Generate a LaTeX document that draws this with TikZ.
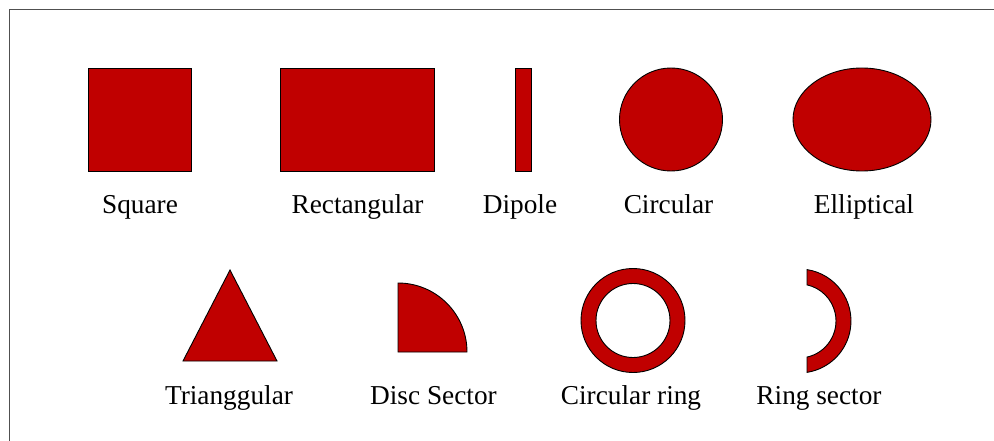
\documentclass[tikz,border=0pt]{standalone}
\usepackage{fontspec}
\setmainfont{Liberation Serif}
\definecolor{patchred}{RGB}{192,0,0}
\definecolor{framegray}{RGB}{80,80,80}
\begin{document}
\begin{tikzpicture}[x=1pt,y=-1pt,
  patch/.style={fill=patchred,draw=black,line width=0.9pt,line join=miter},
  lbl/.style={font=\fontsize{27.3}{30}\selectfont,anchor=base,inner sep=0pt}]
\useasboundingbox (0,0) rectangle (994,441);
\fill[white] (0,0) rectangle (994,441);
% frame (extends beyond the picture on the right and bottom)
\draw[framegray,line width=1.8pt] (9.5,441) -- (9.5,9.5) -- (994,9.5);
% row 1 shapes
\draw[patch] (88,68) rectangle (191,171);
\draw[patch] (280,68) rectangle (434,171);
\draw[patch] (515,68) rectangle (531,171);
\draw[patch] (671,119.5) circle[radius=51.5];
\draw[patch] (862,119.5) ellipse[x radius=69,y radius=51.5];
% row 1 labels
\node[lbl] (square) at (140,213.5) {Square};
\node[lbl] (rect) at (357.5,213.5) {Rectangular};
\node[lbl] (dipole) at (520,213.5) {Dipole};
\node[lbl] (circ) at (668.5,213.5) {Circular};
\node[lbl] (ellip) at (864,213.5) {Elliptical};
% row 2 shapes
\draw[patch] (230,270) -- (277,361) -- (183,361) -- cycle;
\draw[patch] (398,352) -- (398,283) arc[start angle=-90,end angle=0,radius=69] -- cycle;
\draw[patch,even odd rule] (633,320.5) circle[radius=52] (633,320.5) circle[radius=37];
\draw[patch] (807,269.6) arc[start angle=-81.15,end angle=81.15,radius=52] -- (807,357.1)
  arc[start angle=77.5,end angle=-77.5,radius=37] -- cycle;
% row 2 labels
\node[lbl] (tri) at (229,404) {Trianggular};
\node[lbl] (disc) at (433.5,404) {Disc Sector};
\node[lbl] (ring) at (631,404) {Circular ring};
\node[lbl] (rsec) at (819,404) {Ring sector};
\end{tikzpicture}
\end{document}
